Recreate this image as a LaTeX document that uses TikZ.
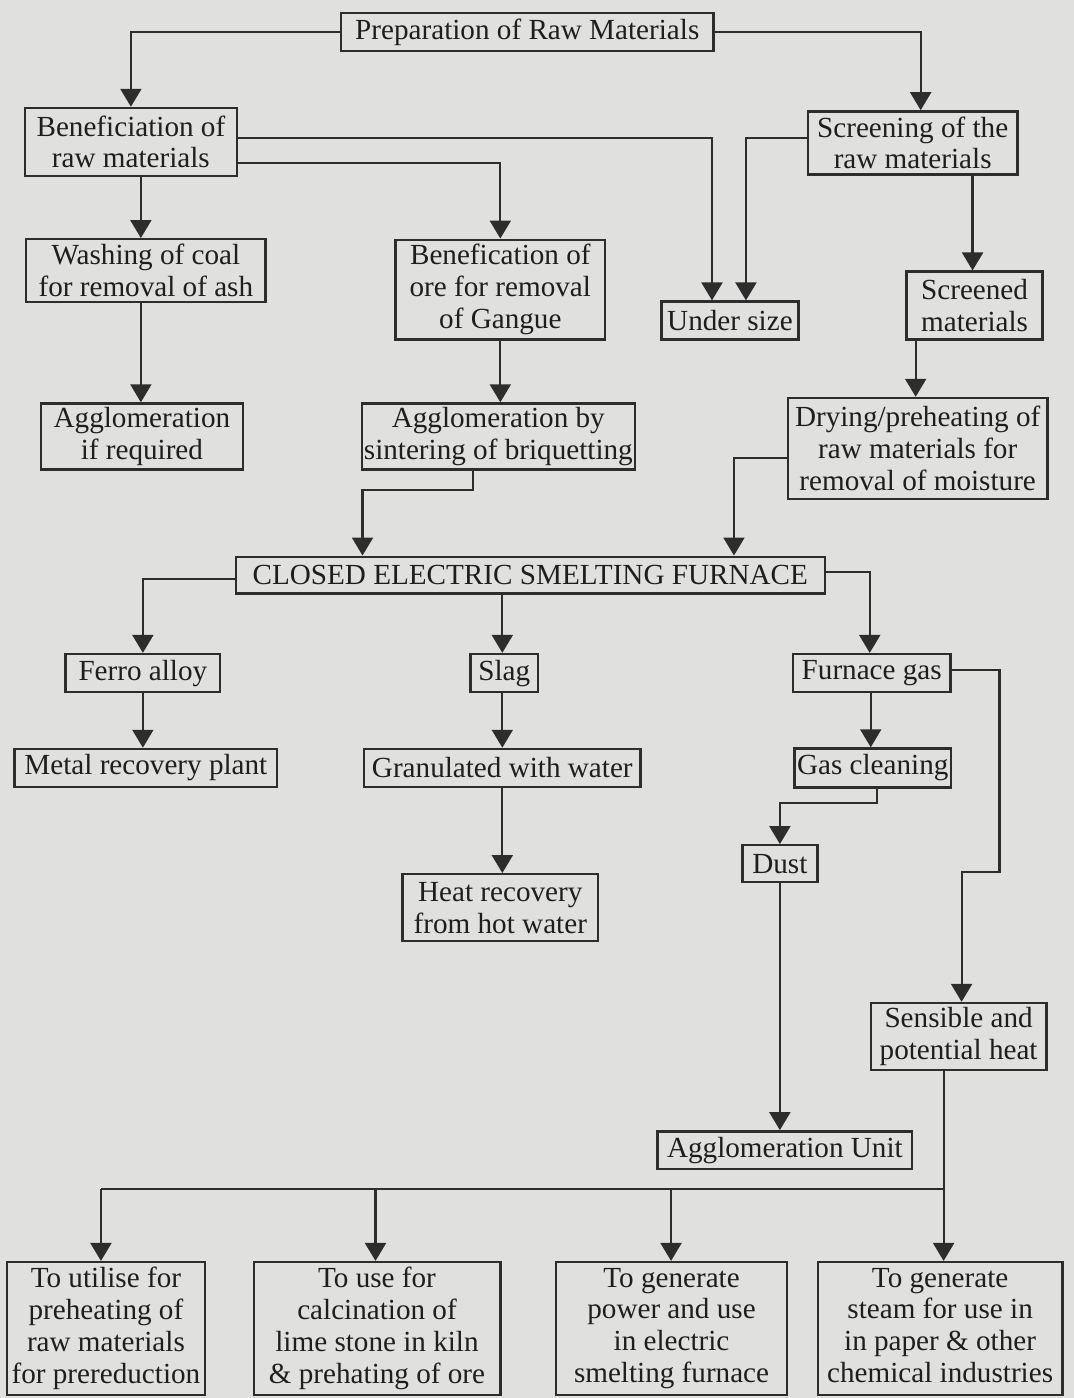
\documentclass[tikz,border=0pt]{standalone}
\usepackage{fontspec}
\setmainfont{Liberation Serif}
\usepackage{tikz}
\usetikzlibrary{positioning,arrows.meta}
\definecolor{bgc}{RGB}{224,224,222}
\definecolor{linec}{RGB}{45,45,45}
\definecolor{textc}{RGB}{30,30,30}

\begin{document}
\begin{tikzpicture}[x=0.5pt, y=-0.5pt, >={Triangle[length=9pt,width=10.5pt]},
    box/.style={draw=linec, line width=1.2pt, rectangle, align=center, inner sep=1pt, text=textc, font=\fontsize{14.6}{16}\selectfont},
    every path/.style={draw=linec, line width=1.1pt}]
    \useasboundingbox (0,0) rectangle (1073,1398);
    \fill[bgc] (0,0) rectangle (1073,1398);
    % raw materials
    \node[box, minimum width=186.5pt, minimum height=19pt] (prep) at (527,31) {Preparation of Raw Materials};
    \node[box, minimum width=106pt, minimum height=34pt] (benef) at (130,141) {Beneficiation of\\raw materials};
    \node[box, minimum width=105pt, minimum height=31.5pt] (screen) at (913,142) {Screening of the\\raw materials};
    \node[box, minimum width=120pt, minimum height=31.5pt] (wash) at (145,270) {Washing of coal\\for removal of ash};
    \node[box, minimum width=105pt, minimum height=50pt] (gangue) at (500,289) {Benefication of\\ore for removal\\of Gangue};
    \node[box, minimum width=68.5pt, minimum height=19pt] (under) at (730,320) {Under size};
    \node[box, minimum width=68pt, minimum height=34pt] (screened) at (975,305) {Screened\\materials};
    \node[box, minimum width=101pt, minimum height=33pt] (agg1) at (141,436) {Agglomeration\\if required};
    \node[box, minimum width=135.5pt, minimum height=33pt] (agg2) at (498,436) {Agglomeration by\\sintering of briquetting};
    \node[box, minimum width=130pt, minimum height=50.5pt] (dry) at (918,448) {Drying/preheating of\\raw materials for\\removal of moisture};
    % furnace and products
    \node[box, minimum width=295pt, minimum height=18.5pt] (furnace) at (530,575) {CLOSED ELECTRIC SMELTING FURNACE};
    \node[box, minimum width=77.5pt, minimum height=19pt] (ferro) at (142,673) {Ferro alloy};
    \node[box, minimum width=34pt, minimum height=19pt] (slag) at (504,673) {Slag};
    \node[box, minimum width=79pt, minimum height=19pt] (fgas) at (872,673) {Furnace gas};
    \node[box, minimum width=131.5pt, minimum height=19pt] (metal) at (145,768) {Metal recovery plant};
    \node[box, minimum width=138.5pt, minimum height=19pt] (gran) at (502,768) {Granulated with water};
    \node[box, minimum width=78.5pt, minimum height=19.5pt] (gclean) at (873,768) {Gas cleaning};
    \node[box, minimum width=37.5pt, minimum height=18.5pt] (dust) at (780,864) {Dust};
    \node[box, minimum width=98pt, minimum height=33.5pt] (heat) at (500,908) {Heat recovery\\from hot water};
    \node[box, minimum width=88pt, minimum height=33.5pt] (sens) at (959,1037) {Sensible and\\potential heat};
    \node[box, minimum width=127.5pt, minimum height=19pt] (aunit) at (785,1151) {Agglomeration Unit};
    % uses of the heat
    \node[box, minimum width=99pt, minimum height=66.5pt] (uti) at (105,1329.5) {To utilise for\\preheating of\\raw materials\\for prereduction};
    \node[box, minimum width=123.5pt, minimum height=66.5pt] (lime) at (376.5,1329.5) {To use for\\calcination of\\lime stone in kiln\\\& prehating of ore};
    \node[box, minimum width=115.5pt, minimum height=66.5pt] (power) at (671.5,1329.5) {To generate\\power and use\\in electric\\smelting furnace};
    \node[box, minimum width=122.5pt, minimum height=66.5pt] (steam) at (940.5,1329.5) {To generate\\steam for use in\\in paper \& other\\chemical industries\vphantom{g}};
    % connectors
    \draw[->] (prep.west) -| (benef.north);
    \draw[->] (prep.east) -| (screen.north -| 921,0);
    \draw[->] (benef.east |- 0,137) -| (under.north -| 712,0);
    \draw[->] (benef.east |- 0,162) -| (gangue.north);
    \draw[->] (screen.west |- 0,137) -| (under.north -| 746,0);
    \draw[->] (benef.south -| 140,0) -- (wash.north -| 140,0);
    \draw[->] (screen.south -| 973,0) -- (screened.north -| 973,0);
    \draw[->] (wash.south -| 140,0) -- (agg1.north -| 140,0);
    \draw[->] (gangue.south) -- (gangue.south |- agg2.north);
    \draw[->] (screened.south -| 916,0) -- (dry.north -| 916,0);
    \draw[->] (agg2.south -| 473,0) |- (362,490) -- (furnace.north -| 362,0);
    \draw[->] (dry.west |- 0,458) -| (furnace.north -| 734,0);
    \draw[->] (furnace.west |- 0,579) -| (ferro.north);
    \draw[->] (furnace.south -| 502,0) -- (slag.north -| 502,0);
    \draw[->] (furnace.east |- 0,572) -| (fgas.north -| 870,0);
    \draw[->] (ferro.south) -- (ferro.south |- metal.north);
    \draw[->] (slag.south -| 502,0) -- (gran.north -| 502,0);
    \draw[->] (fgas.south -| 871,0) -- (gclean.north -| 871,0);
    \draw[->] (gran.south -| 502,0) -- (heat.north -| 502,0);
    \draw[->] (fgas.east |- 0,670) -| (1000,872) -| (sens.north -| 962,0);
    \draw[->] (gclean.south -| 877,0) |- (780,803) -- (dust.north);
    \draw[->] (dust.south) -- (dust.south |- aunit.north);
    \draw (sens.south -| 944,0) |- (100,1190);
    \foreach \n/\x in {uti/100, lime/375, power/671, steam/944}
      \draw[->] (\x,1190) -- (\n.north -| \x,0);
\end{tikzpicture}
\end{document}
